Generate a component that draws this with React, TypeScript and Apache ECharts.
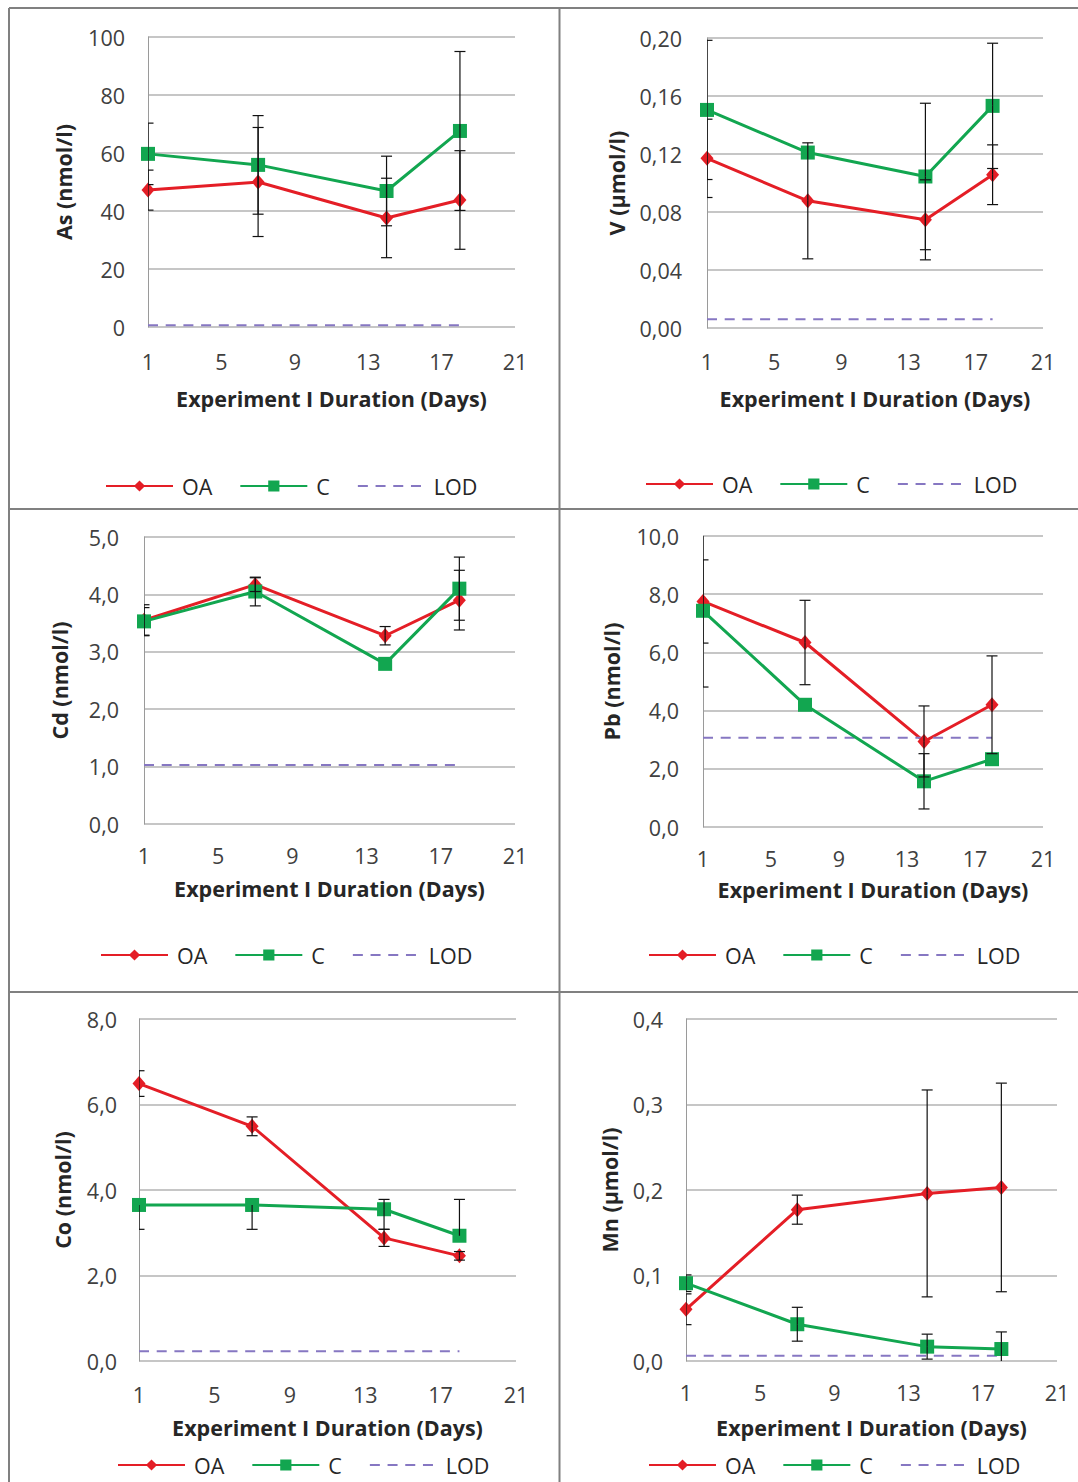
import React, { useEffect, useRef } from "react";
import * as echarts from "echarts";

// ---------- data ----------
const days = [1, 7, 14, 18];
const lodDays = [1, 18];
const xTickValues = [1, 5, 9, 13, 17, 21];
const seriesNames = ["OA", "C", "LOD"];
const xTitle = "Experiment I Duration (Days)";

// As (nmol/l)
const asOA = [47.2, 50.0, 37.6, 43.8];
const asOAErr = [6.9, 18.8, 13.7, 17.0];
const asC = [59.7, 55.9, 46.9, 67.6];
const asCErr = [10.6, 17.0, 12.0, 27.4];
const asLOD = 0.6;

// V (µmol/l)
const vOA = [0.117, 0.0877, 0.0746, 0.1057];
const vOAErr = [0.027, 0.04, 0.0276, 0.0206];
const vC = [0.1504, 0.121, 0.1045, 0.1532];
const vCErr = [0.048, 0, 0.0505, 0.0432];
const vLOD = 0.006;

// Cd (nmol/l)
const cdOA = [3.55, 4.17, 3.28, 3.9];
const cdOAErr = [0.27, 0.12, 0.16, 0.52];
const cdC = [3.53, 4.05, 2.79, 4.1];
const cdCErr = [0.24, 0.25, 0, 0.55];
const cdLOD = 1.03;

// Pb (nmol/l)
const pbOA = [7.75, 6.34, 2.94, 4.2];
const pbOAErr = [1.43, 1.45, 1.22, 1.68];
const pbC = [7.43, 4.2, 1.57, 2.33];
const pbCErr = [2.62, 0, 0.95, 0];
const pbLOD = 3.07;

// Co (nmol/l)
const coOA = [6.49, 5.49, 2.88, 2.46];
const coOAErr = [0.3, 0.22, 0.2, 0.1];
const coC = [3.65, 3.65, 3.55, 2.93];
const coCErrMinus = [0.57, 0.57, 0.47, 0];
const coCErrPlus = [0, 0, 0.23, 0.85];
const coLOD = 0.23;

// Mn (µmol/l)
const mnOA = [0.0605, 0.177, 0.196, 0.203];
const mnOAErr = [0.018, 0.017, 0.121, 0.122];
const mnC = [0.091, 0.043, 0.0168, 0.014];
const mnCErr = [0.0097, 0.0198, 0.0146, 0.02];
const mnLOD = 0.006;

// ---------- panel definitions ----------
type Panel = {
  yName: string;
  min: number;
  max: number;
  interval: number;
  dec: number;
  oa: number[];
  oaMinus: number[];
  oaPlus: number[];
  c: number[];
  cMinus: number[];
  cPlus: number[];
  lod: number;
  grid: { left: number; top: number; width: number; height: number };
  labelMargin: number;
  yNameGap: number;
  xNameGap: number;
  xLabelMargin: number;
  legend: { left: number; top: number };
};

const panels: Panel[] = [
  {
    yName: "As (nmol/l)", min: 0, max: 100, interval: 20, dec: 0,
    oa: asOA, oaMinus: asOAErr, oaPlus: asOAErr, c: asC, cMinus: asCErr, cPlus: asCErr, lod: asLOD,
    grid: { left: 148, top: 37, width: 367, height: 290 },
    labelMargin: 23, yNameGap: 74, xNameGap: 60, xLabelMargin: 23,
    legend: { left: 105, top: 475 },
  },
  {
    yName: "V (µmol/l)", min: 0, max: 0.2, interval: 0.04, dec: 2,
    oa: vOA, oaMinus: vOAErr, oaPlus: vOAErr, c: vC, cMinus: vCErr, cPlus: vCErr, lod: vLOD,
    grid: { left: 707, top: 38, width: 336, height: 290 },
    labelMargin: 25, yNameGap: 80, xNameGap: 59, xLabelMargin: 22,
    legend: { left: 645, top: 473 },
  },
  {
    yName: "Cd (nmol/l)", min: 0, max: 5, interval: 1, dec: 1,
    oa: cdOA, oaMinus: cdOAErr, oaPlus: cdOAErr, c: cdC, cMinus: cdCErr, cPlus: cdCErr, lod: cdLOD,
    grid: { left: 144, top: 537, width: 371, height: 287 },
    labelMargin: 25, yNameGap: 74, xNameGap: 53, xLabelMargin: 20,
    legend: { left: 100, top: 944 },
  },
  {
    yName: "Pb (nmol/l)", min: 0, max: 10, interval: 2, dec: 1,
    oa: pbOA, oaMinus: pbOAErr, oaPlus: pbOAErr, c: pbC, cMinus: pbCErr, cPlus: pbCErr, lod: pbLOD,
    grid: { left: 703, top: 536, width: 340, height: 291 },
    labelMargin: 24, yNameGap: 81, xNameGap: 51, xLabelMargin: 20,
    legend: { left: 648, top: 944 },
  },
  {
    yName: "Co (nmol/l)", min: 0, max: 8, interval: 2, dec: 1,
    oa: coOA, oaMinus: coOAErr, oaPlus: coOAErr, c: coC, cMinus: coCErrMinus, cPlus: coCErrPlus, lod: coLOD,
    grid: { left: 139, top: 1019, width: 377, height: 342 },
    labelMargin: 22, yNameGap: 66, xNameGap: 55, xLabelMargin: 22,
    legend: { left: 117, top: 1454 },
  },
  {
    yName: "Mn (µmol/l)", min: 0, max: 0.4, interval: 0.1, dec: 1,
    oa: mnOA, oaMinus: mnOAErr, oaPlus: mnOAErr, c: mnC, cMinus: mnCErr, cPlus: mnCErr, lod: mnLOD,
    grid: { left: 686, top: 1019, width: 371, height: 342 },
    labelMargin: 23, yNameGap: 66, xNameGap: 55, xLabelMargin: 20,
    legend: { left: 648, top: 1454 },
  },
];

const RED = "#E41E26";
const GREEN = "#12A650";
const LOD_COLOR = "#8677C2";
const LOD_DASH = [10, 7.7];
const FONT = "'Open Sans', Lato, sans-serif";
const TEXT = "#404040";

function errData(values: number[], minus: number[], plus: number[]) {
  return days.map((d, i) => [d, values[i] - minus[i], values[i] + plus[i], values[i]]);
}

function renderErr(params: any, api: any) {
  const x = api.value(0);
  const lo = api.value(1);
  const hi = api.value(2);
  const mean = api.value(3);
  const pTop = api.coord([x, hi]);
  const pBot = api.coord([x, lo]);
  const pMid = api.coord([x, mean]);
  const cap = 5.5;
  const style = { stroke: "#111", lineWidth: 1.2 };
  const children: any[] = [];
  if (hi > mean) {
    children.push({ type: "line", shape: { x1: pMid[0], y1: pMid[1], x2: pTop[0], y2: pTop[1] }, style });
    children.push({ type: "line", shape: { x1: pTop[0] - cap, y1: pTop[1], x2: pTop[0] + cap, y2: pTop[1] }, style });
  }
  if (lo < mean) {
    children.push({ type: "line", shape: { x1: pMid[0], y1: pMid[1], x2: pBot[0], y2: pBot[1] }, style });
    children.push({ type: "line", shape: { x1: pBot[0] - cap, y1: pBot[1], x2: pBot[0] + cap, y2: pBot[1] }, style });
  }
  return { type: "group", children };
}

function buildOption() {
  const grid: any[] = [];
  const xAxis: any[] = [];
  const yAxis: any[] = [];
  const series: any[] = [];
  const legend: any[] = [];

  panels.forEach((p, i) => {
    grid.push({ ...p.grid, containLabel: false });
    xAxis.push({
      type: "value",
      gridIndex: i,
      min: 1,
      max: 21,
      name: xTitle,
      nameLocation: "middle",
      nameGap: p.xNameGap,
      nameTextStyle: { fontFamily: FONT, fontSize: 21.5, fontWeight: "bold", color: "#262626" },
      axisLine: { show: false },
      axisTick: { show: false, customValues: xTickValues },
      splitLine: { show: false },
      axisLabel: {
        customValues: xTickValues,
        margin: p.xLabelMargin,
        fontFamily: FONT,
        fontSize: 21.5,
        color: TEXT,
      },
    });
    yAxis.push({
      type: "value",
      gridIndex: i,
      min: p.min,
      max: p.max,
      interval: p.interval,
      name: p.yName,
      nameLocation: "middle",
      nameRotate: 90,
      nameGap: p.yNameGap,
      nameTextStyle: { fontFamily: FONT, fontSize: 21.5, fontWeight: "bold", color: "#262626" },
      axisLine: { show: true, lineStyle: { color: "#9A9A9A", width: 1 } },
      axisTick: { show: false },
      splitLine: { show: true, lineStyle: { color: "#B3B3B3", width: 1.5 } },
      axisLabel: {
        margin: p.labelMargin,
        fontFamily: FONT,
        fontSize: 21.5,
        color: TEXT,
        formatter: (v: number) => v.toFixed(p.dec).replace(".", ","),
      },
    });

    series.push({
      type: "line",
      name: seriesNames[0],
      xAxisIndex: i,
      yAxisIndex: i,
      data: days.map((d, k) => [d, p.oa[k]]),
      symbol: "diamond",
      symbolSize: [13, 15],
      lineStyle: { color: RED, width: 3 },
      itemStyle: { color: RED },
      z: 2,
    });
    series.push({
      type: "line",
      name: seriesNames[1],
      xAxisIndex: i,
      yAxisIndex: i,
      data: days.map((d, k) => [d, p.c[k]]),
      symbol: "rect",
      symbolSize: 14,
      lineStyle: { color: GREEN, width: 3 },
      itemStyle: { color: GREEN },
      z: 3,
    });
    series.push({
      type: "line",
      name: seriesNames[2],
      xAxisIndex: i,
      yAxisIndex: i,
      data: lodDays.map((d) => [d, p.lod]),
      symbol: "none",
      lineStyle: { color: LOD_COLOR, width: 2, type: LOD_DASH },
      itemStyle: { color: LOD_COLOR },
      z: 2,
    });
    series.push({
      type: "custom",
      name: "errOA" + i,
      xAxisIndex: i,
      yAxisIndex: i,
      data: errData(p.oa, p.oaMinus, p.oaPlus),
      renderItem: renderErr,
      clip: true,
      z: 4,
      silent: true,
    });
    series.push({
      type: "custom",
      name: "errC" + i,
      xAxisIndex: i,
      yAxisIndex: i,
      data: errData(p.c, p.cMinus, p.cPlus),
      renderItem: renderErr,
      clip: true,
      z: 4,
      silent: true,
    });

    legend.push({
      left: p.legend.left,
      top: p.legend.top,
      padding: 0,
      orient: "horizontal",
      itemWidth: 67,
      itemHeight: 14,
      itemGap: 27,
      selectedMode: false,
      data: [
        seriesNames[0],
        seriesNames[1],
        { name: seriesNames[2], itemStyle: { opacity: 0 }, lineStyle: { type: LOD_DASH, width: 2 } },
      ],
      textStyle: { fontFamily: FONT, fontSize: 21.5, color: "#262626", padding: [0, 0, 0, 4] },
    });
  });

  const border = { stroke: "#808080", lineWidth: 2 };
  const graphic = [
    { type: "line", shape: { x1: 9, y1: 8, x2: 9, y2: 1482 }, style: border, silent: true },
    { type: "line", shape: { x1: 9, y1: 8, x2: 1078, y2: 8 }, style: border, silent: true },
    { type: "line", shape: { x1: 559.5, y1: 8, x2: 559.5, y2: 1482 }, style: border, silent: true },
    { type: "line", shape: { x1: 9, y1: 509, x2: 1078, y2: 509 }, style: border, silent: true },
    { type: "line", shape: { x1: 9, y1: 992, x2: 1078, y2: 992 }, style: border, silent: true },
  ];

  return {
    animation: false,
    backgroundColor: "#ffffff",
    grid,
    xAxis,
    yAxis,
    series,
    legend,
    graphic,
  };
}

export default function App() {
  const ref = useRef<HTMLDivElement>(null);
  useEffect(() => {
    if (!ref.current) return;
    const chart = echarts.init(ref.current, undefined, { renderer: "svg" });
    chart.setOption(buildOption() as any);
    return () => chart.dispose();
  }, []);
  return (
    <div
      ref={ref}
      style={{ position: "absolute", left: 0, top: 0, width: 1078, height: 1482, background: "#fff" }}
    />
  );
}
